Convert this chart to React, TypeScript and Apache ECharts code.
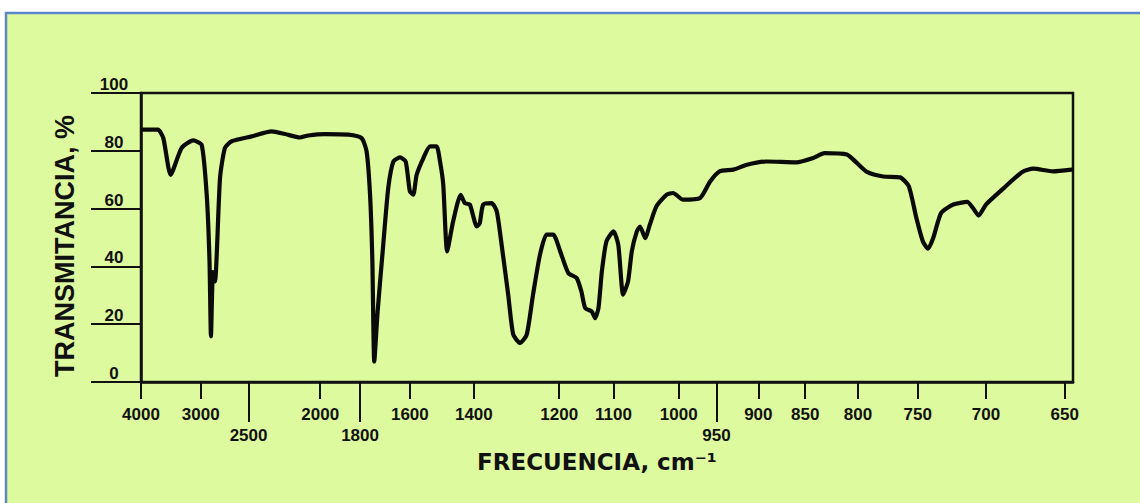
import React, { useEffect, useRef } from "react";
import * as echarts from "echarts";

// IR spectrum: wavenumber (cm-1) and transmittance (%)
const wavenumbers = [
  3956, 3654, 3557, 3432, 3260, 3097, 2988, 2927, 2894, 2877,
  2854, 2831, 2776, 2724, 2656, 2473, 2313, 2218, 2120, 2069,
  1974, 1855, 1793, 1771, 1756, 1746, 1738, 1724, 1701, 1681,
  1661, 1636, 1615, 1600, 1588, 1576, 1553, 1531, 1510, 1499,
  1489, 1477, 1459, 1437, 1425, 1411, 1392, 1384, 1375, 1353,
  1340, 1328, 1312, 1300, 1284, 1269, 1255, 1240, 1226, 1212,
  1198, 1182, 1166, 1157, 1150, 1138, 1132, 1126, 1120, 1112,
  1100, 1092, 1084, 1076, 1070, 1062, 1057, 1049, 1042, 1032,
  1017, 1008, 994, 971, 958, 946, 929, 913, 891, 859,
  842, 831, 810, 801, 792, 778, 764, 757, 751, 746,
  742, 738, 732, 723, 713, 709, 705, 700, 688, 676,
  669, 657, 646,
];
const transmittance = [
  87.3, 87.3, 84.4, 71.7, 81, 83.6, 82, 64.8, 42, 15.8,
  38, 34.8, 70.6, 81, 83.3, 85, 86.7, 85.8, 84.6, 85.3,
  85.8, 85.6, 84.4, 79.8, 64.8, 41.7, 7.1, 24.4, 47.5, 67.1,
  76.3, 77.7, 76.3, 66, 64.8, 71.7, 77.5, 81.5, 81.5, 76.3,
  68.3, 45.2, 55.6, 64.8, 61.9, 61.4, 53.8, 55, 61.4, 61.9,
  59, 47.5, 30.2, 16.4, 13.5, 16.4, 30.2, 44, 51, 51,
  45.2, 37.7, 36, 31.3, 25.6, 24.4, 22.1, 25.6, 38.3, 48.7,
  52.1, 47.5, 30.2, 34.8, 45.2, 52.1, 53.8, 49.8, 54.4, 60.8,
  64.8, 65.4, 63.1, 63.7, 69.4, 72.9, 73.5, 75.2, 76.3, 76,
  77.5, 79.2, 78.7, 75.8, 72.7, 71.1, 70.8, 67.7, 56.7, 48.7,
  46.1, 49.8, 58.5, 61.4, 62.3, 60.2, 57.6, 61.4, 67.1, 72.7,
  73.8, 72.9, 73.5,
];

const shortTicks = [4000, 3000, 2000, 1600, 1400, 1200, 1100, 1000, 900, 850, 800, 750, 700, 650];
const longTicks = [2500, 1800, 950];

const yTitle = "TRANSMITANCIA, %";
const xTitle = "FRECUENCIA, cm⁻¹";

// chart paper is linear in wavelength (µm)
const toMicron = (nu: number) => 10000 / nu;

export default function App() {
  const ref = useRef<HTMLDivElement>(null);
  useEffect(() => {
    const chart = echarts.init(ref.current!, null, { renderer: "svg" });
    const ink = "#111111";
    const labelFont = {
      fontFamily: "'Liberation Sans', Arial, sans-serif",
      fontSize: 17,
      fontWeight: "bold" as const,
      color: ink,
    };
    const fmt = (v: number) => String(Math.round(10000 / v));
    chart.setOption({
      animation: false,
      backgroundColor: "transparent",
      graphic: [
        {
          type: "rect",
          z: -10,
          shape: { x: 6, y: 13, width: 1150, height: 500 },
          style: { fill: "#ddfa9f", stroke: "#5b87c6", lineWidth: 2.5 },
        },
        {
          type: "text",
          x: 65,
          y: 246,
          rotation: Math.PI / 2,
          style: {
            text: yTitle,
            fontFamily: "'Liberation Sans', Arial, sans-serif",
            fontSize: 27,
            fontWeight: "bold",
            fill: ink,
            align: "center",
            verticalAlign: "middle",
          },
        },
        {
          type: "text",
          x: 597,
          y: 462,
          style: {
            text: xTitle,
            fontFamily: "'DejaVu Sans', sans-serif",
            fontSize: 23,
            fontWeight: "bold",
            fill: ink,
            align: "center",
            verticalAlign: "middle",
          },
        },
      ],
      grid: {
        left: 141,
        top: 93,
        right: 67,
        bottom: 121,
        show: true,
        borderColor: ink,
        borderWidth: 2.5,
        backgroundColor: "transparent",
      },
      xAxis: [
        {
          type: "value",
          min: 2.5,
          max: 15.5,
          position: "bottom",
          axisLine: { show: true, lineStyle: { color: ink, width: 2.5 } },
          axisTick: {
            show: true,
            length: 17,
            customValues: shortTicks.map(toMicron),
            lineStyle: { color: ink, width: 2 },
          },
          axisLabel: {
            customValues: shortTicks.map(toMicron),
            formatter: fmt,
            margin: 24,
            ...labelFont,
          },
          splitLine: { show: false },
        },
        {
          type: "value",
          min: 2.5,
          max: 15.5,
          position: "bottom",
          axisLine: { show: false },
          axisTick: {
            show: true,
            length: 40,
            customValues: longTicks.map(toMicron),
            lineStyle: { color: ink, width: 2 },
          },
          axisLabel: {
            customValues: longTicks.map(toMicron),
            formatter: fmt,
            margin: 45,
            ...labelFont,
          },
          splitLine: { show: false },
        },
      ],
      yAxis: {
        type: "value",
        min: 0,
        max: 100,
        interval: 20,
        axisLine: { show: true, lineStyle: { color: ink, width: 2.5 } },
        axisTick: { show: true, length: 50, lineStyle: { color: ink, width: 2 } },
        axisLabel: {
          align: "center",
          verticalAlign: "bottom",
          margin: 27,
          ...labelFont,
        },
        splitLine: { show: false },
      },
      series: [
        {
          type: "line",
          xAxisIndex: 0,
          data: wavenumbers.map((nu, i) => [toMicron(nu), transmittance[i]]),
          showSymbol: false,
          symbol: "none",
          smooth: 0.2,
          lineStyle: { color: "#0a0a0a", width: 4.2, join: "round", cap: "round" },
        },
      ],
    });
    return () => chart.dispose();
  }, []);
  return (
    <div
      ref={ref}
      style={{ position: "fixed", left: 0, top: 0, width: 1140, height: 503, background: "#ffffff" }}
    />
  );
}
